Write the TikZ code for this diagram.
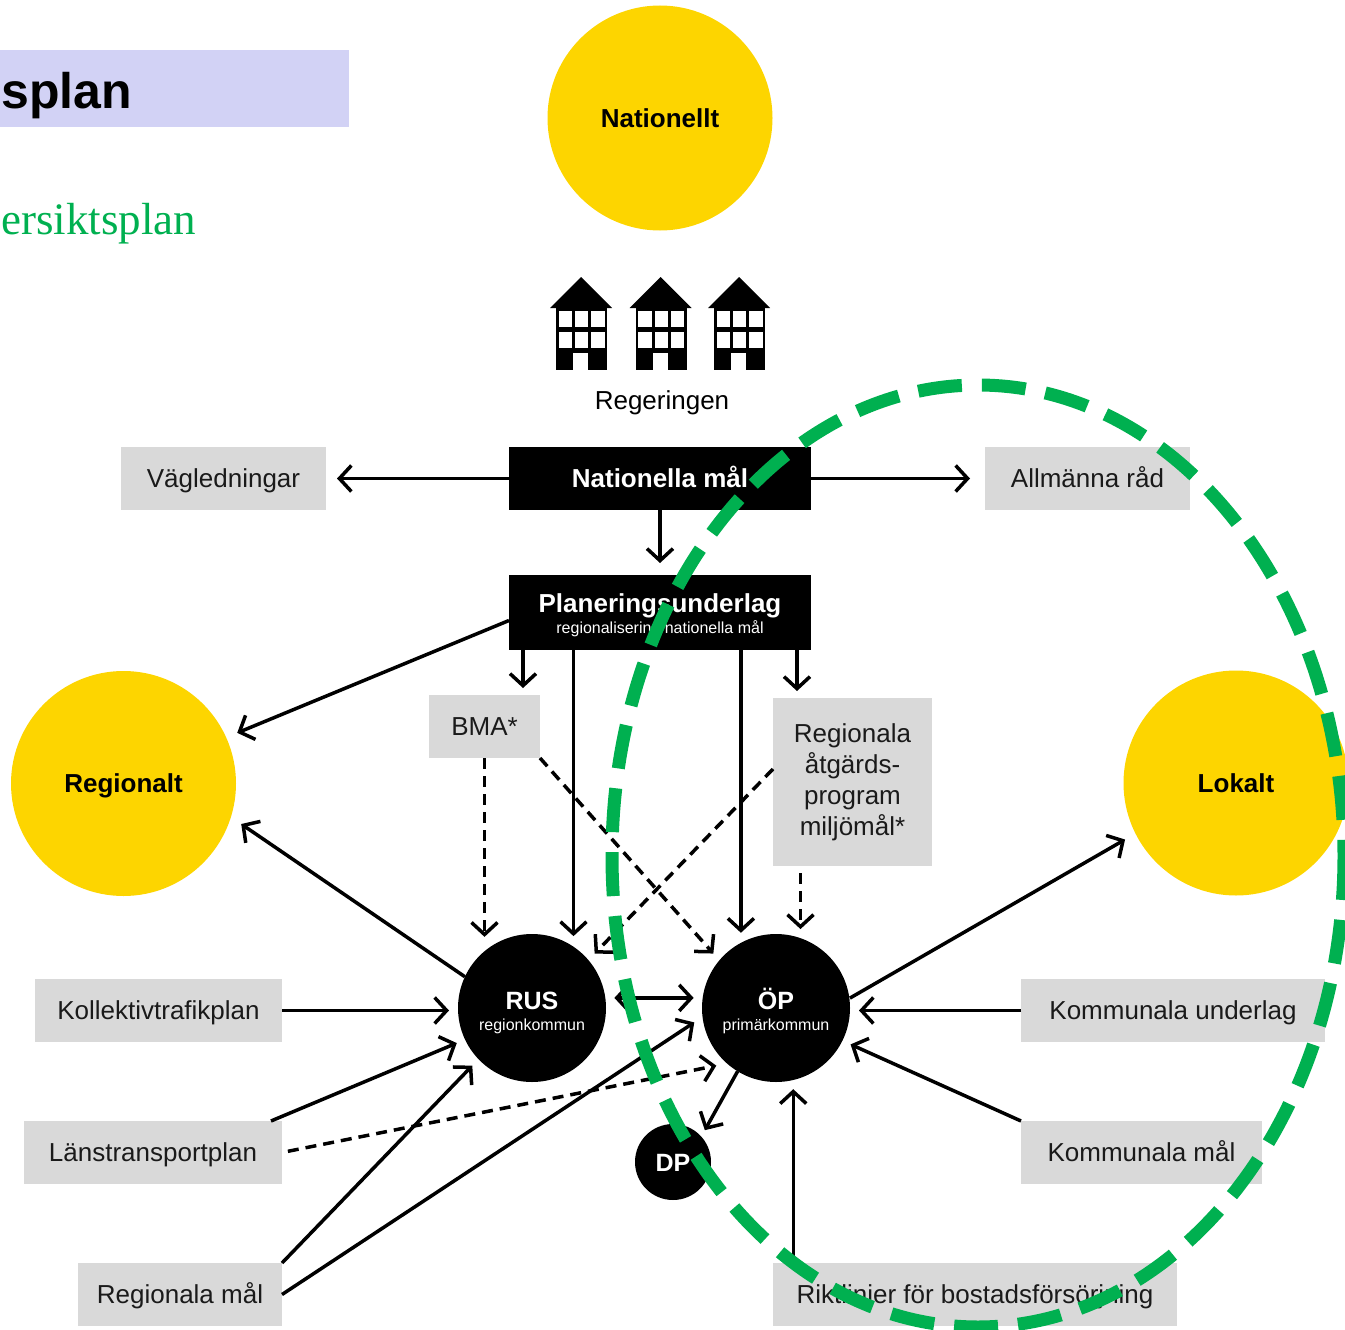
\documentclass[tikz,border=0pt]{standalone}
\usepackage{fontspec}
\setmainfont{Liberation Sans}
\newfontfamily\serifx{Liberation Serif}
\usetikzlibrary{arrows.meta,calc}
\definecolor{sunyel}{RGB}{253,213,0}
\definecolor{boxgray}{RGB}{217,217,217}
\definecolor{lavbox}{RGB}{210,210,245}
\definecolor{grn}{RGB}{0,176,80}
\definecolor{txt}{RGB}{26,26,26}
\tikzset{
  bldg/.pic={
    \fill[black] (0,31) -- (31,0) -- (62,31) -- cycle;
    \fill[black] (6,30) rectangle (57,93);
    \fill[white] (8.5,34) rectangle (22,50);
    \fill[white] (25,34) rectangle (38,50);
    \fill[white] (41,34) rectangle (54.5,50);
    \fill[white] (8.5,55) rectangle (22,71);
    \fill[white] (25,55) rectangle (38,71);
    \fill[white] (41,55) rectangle (54.5,71);
    \fill[white] (23,76) rectangle (38,93.5);
  }
}
\begin{document}
\begin{tikzpicture}[x=1pt,y=-1pt,
  font=\fontsize{26}{30}\selectfont,
  graybox/.style={fill=boxgray, text=txt, inner sep=0pt, outer sep=0pt, minimum height=63, align=center},
  oneline/.style={text height=18.5pt, text depth=0pt},
  blackbox/.style={fill=black, text=white, inner sep=0pt, outer sep=0pt, align=center, font=\fontsize{26}{30}\selectfont\bfseries},
  sun/.style={circle, fill=sunyel, minimum size=225, inner sep=0pt, outer sep=12pt, text height=18.5pt, text depth=0pt, font=\fontsize{26}{30}\selectfont\bfseries},
  hub/.style={circle, fill=black, text=white, minimum size=148, inner sep=0pt, outer sep=9pt, align=center, font=\fontsize{16}{21}\selectfont},
  tipb/.tip={Straight Barb[length=12pt,width=26pt]},
  conn/.style={line width=3.5pt, -tipb},
  dconn/.style={conn, dash pattern=on 11pt off 7pt},
  biconn/.style={line width=3.5pt, tipb-tipb},
]
\useasboundingbox (0,0) rectangle (1345,1330);
\clip (0,0) rectangle (1345,1330);

% title fragments
\node[fill=lavbox, minimum width=349, minimum height=77, inner sep=0pt, anchor=north west] (title) at (0,50) {};
\node[anchor=base west, inner sep=0pt, font=\bfseries\fontsize{50}{56}\selectfont] (titletxt) at (1,108) {splan};
\node[anchor=base west, inner sep=0pt, text=grn, font=\serifx\fontsize{45}{50}\selectfont] (subtxt) at (1,234) {ersiktsplan};

% suns
\node[sun] (nat) at (660,118) {Nationellt};
\node[sun] (reg) at (123.5,783.5) {Regionalt};
\node[sun] (lok) at (1236,783) {Lokalt};

% buildings
\pic at (550,277) {bldg};
\pic at (629.5,277) {bldg};
\pic at (708,277) {bldg};
\node[inner sep=0pt, oneline] (rege) at (662,400) {Regeringen};

% boxes
\node[blackbox, oneline, minimum width=302, minimum height=63] (nm) at (660,478.5) {Nationella mål};
\node[graybox, oneline, minimum width=205] (vag) at (223.5,478.5) {Vägledningar};
\node[graybox, oneline, minimum width=205] (all) at (1087.5,478.5) {Allmänna råd};
\node[blackbox, text height=45pt, minimum width=302, minimum height=75] (pu) at (660,612.5)
  {Planeringsunderlag\\[-9pt]{\mdseries\fontsize{16}{19}\selectfont regionalisering nationella mål}};
\node[graybox, oneline, minimum width=111] (bma) at (484.5,726.5) {BMA*};
\node[graybox, minimum width=159, minimum height=168, font=\fontsize{26}{31}\selectfont] (ra) at (852.5,782)
  {Regionala\\åtgärds-\\program\\miljömål*};
\node[graybox, oneline, minimum width=247] (kol) at (158.5,1010.5) {Kollektivtrafikplan};
\node[graybox, oneline, minimum width=258] (lan) at (153,1152.5) {Länstransportplan};
\node[graybox, oneline, minimum width=204] (rm) at (180,1294.5) {Regionala mål};
\node[graybox, oneline, minimum width=304] (ku) at (1173,1010.5) {Kommunala underlag};
\node[graybox, oneline, minimum width=241] (km) at (1141.5,1152.5) {Kommunala mål};
\node[graybox, oneline, minimum width=404] (rl) at (975,1294.5) {Riktlinjer för bostadsförsörjning};

% hubs
\node[hub, text height=48pt] (rus) at (532,1008) {{\bfseries\fontsize{25}{21}\selectfont RUS}\\regionkommun};
\node[hub, text height=48pt] (op) at (776,1008) {{\bfseries\fontsize{25}{21}\selectfont ÖP}\\primärkommun};
\node[hub, minimum size=76, outer sep=7pt, text height=18pt, text depth=0pt, font=\bfseries\fontsize{25}{28}\selectfont] (dp) at (673,1162) {DP};

% helper coordinates
\coordinate (puL) at ([yshift=-8pt]pu.west);
\coordinate (bmaIn) at ([xshift=-17pt]bma.north east);
\coordinate (raIn) at ([xshift=24pt]ra.north west);
\coordinate (raOut) at ([xshift=-52pt]ra.south);
\coordinate (raW) at ([yshift=13pt]ra.west);
\coordinate (lanN) at ([xshift=-11pt]lan.north east);

% connectors
\draw[conn, shorten >=11pt] (nm.west) -- (vag.east);
\draw[conn, shorten >=15pt] (nm.east) -- (all.west);
\draw[conn, shorten >=12pt] (nm.south) -- (pu.north);
\draw[conn] (puL) -- (reg.24);
\draw[conn, shorten >=7pt] (bmaIn |- pu.south) -- (bmaIn);
\draw[conn, shorten >=7pt] (raIn |- pu.south) -- (raIn);
\draw[conn] (rus.60 |- pu.south) -- (rus.60);
\draw[conn] (op.115 |- pu.south) -- (op.115);
\draw[dconn] (bma.south) -- (bma.south |- rus.121);
\draw[dconn] (bma.south east) -- (op.139);
\draw[dconn] (raW) -- (rus.41);
\draw[dconn, shorten <=7pt] (raOut) -- (raOut |- op.72);
\draw[conn, shorten <=-9pt] (rus.154) -- (reg.-19);
\draw[biconn] (rus.7) -- (op.173);
\draw[conn] (kol.east) -- (kol.east -| rus.180);
\draw[conn] (lanN) -- (rus.205);
\draw[dconn, shorten <=6pt] (lan.east) -- (op.224);
\draw[conn] (rm.north east) -- (rus.224);
\draw[conn] (rm.east) -- (op.190);
\draw[conn, shorten <=-9pt] (op.10) -- (lok.207);
\draw[conn] (ku.west) -- (ku.west -| op.0);
\draw[conn] (km.north west) -- (op.-26);
\draw[conn] (op.-78 |- rl.north) -- (op.-78);
\draw[conn, shorten <=-9pt] (op.239) -- (dp.45);

% green dashed ellipse
\draw[grn, line width=13pt, dash pattern=on 44pt off 20pt] (978,856) ellipse [x radius=366, y radius=471];
\end{tikzpicture}
\end{document}
